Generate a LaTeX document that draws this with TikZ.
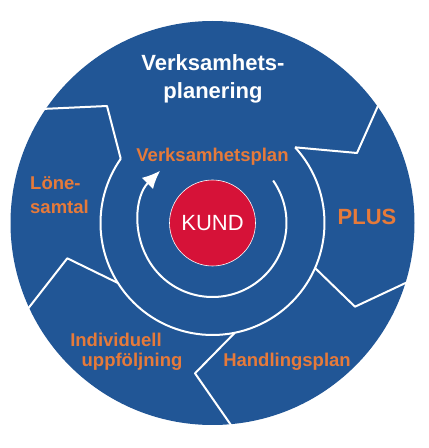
\documentclass[tikz,border=0pt]{standalone}
\usepackage{fontspec}
\setmainfont{Liberation Sans}
\usetikzlibrary{arrows.meta,calc}
\definecolor{diskblue}{RGB}{33,86,150}
\definecolor{plateorange}{RGB}{230,122,58}
\definecolor{kundred}{RGB}{214,18,56}

\begin{document}
\begin{tikzpicture}[x=1pt,y=1pt,>=Latex,
  cut/.style={white, line width=2pt, line join=round},
  seglabel/.style={text=plateorange, inner sep=0pt, font=\bfseries\fontsize{18.5}{24}\selectfont}]
\useasboundingbox (0,0) rectangle (429,448);
\coordinate (C) at (212.5,225);

\fill[diskblue] (C) circle (202);

% rings round the customer
\draw[cut] ($(C)+(42.5:112)$) arc[start angle=42.5, end angle=-215, radius=112];
\draw[cut, -{Latex[length=18pt,width=16pt]}] ($(C)+(35:74)$) arc[start angle=35, end angle=-225, radius=74];

% borders between the segments
\coordinate (A1) at ($(C)+(146:204)$);
\coordinate (A2) at (107,342);
\coordinate (A3) at ($(C)+(145:112)$);
\draw[cut] (A1) -- (A2) -- (A3);

\coordinate (B1) at ($(C)+(35.5:204)$);
\coordinate (B2) at (357,295);
\coordinate (B3) at ($(C)+(42.5:112)$);
\draw[cut] (B1) -- (B2) -- (B3);

\coordinate (D1) at ($(C)+(-23.7:112)$);
\coordinate (D2) at (355,141.3);
\coordinate (D3) at ($(C)+(-16.8:204)$);
\draw[cut] (D1) -- (D2) -- (D3);

\coordinate (E1) at ($(C)+(-78.5:112)$);
\coordinate (E2) at (195,74.7);
\coordinate (E3) at ($(C)+(-84.6:204)$);
\draw[cut] (E1) -- (E2) -- (E3);

\coordinate (F1) at ($(C)+(-147.6:112)$);
\coordinate (F2) at (67.3,189.7);
\coordinate (F3) at ($(C)+(205:204)$);
\draw[cut] (F1) -- (F2) -- (F3);

\node[circle, fill=kundred, draw=white, line width=0.6pt, minimum size=86pt, inner sep=0pt,
  text=white, font=\fontsize{22}{26}\selectfont] (kund) at (C) {KUND};

\node[text=white, align=center, font=\bfseries\fontsize{22}{28}\selectfont] (planering) at (213,369) {Verksamhets-\\planering};
\node[seglabel] (plan) at (212.5,291) {Verksamhetsplan};
\node[seglabel, align=left, anchor=west] (lonesamtal) at (30,253) {Löne-\\samtal};
\node[seglabel, font=\bfseries\fontsize{22}{26}\selectfont] (plus) at (367,231) {PLUS};
\node[seglabel] (individuell) at (116,108) {Individuell};
\node[seglabel] (uppfoljning) at (132,86) {uppföljning};
\node[seglabel] (handling) at (287,86) {Handlingsplan};
\end{tikzpicture}
\end{document}
